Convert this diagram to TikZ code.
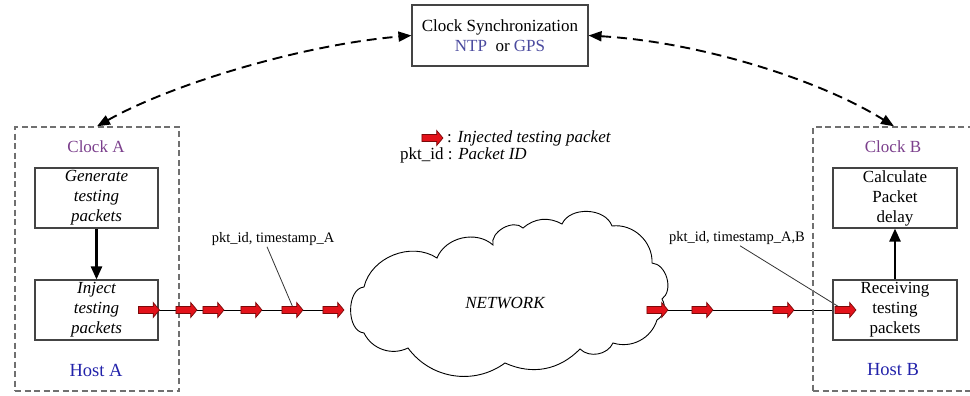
\documentclass[tikz,border=0pt]{standalone}
\usepackage{fontspec}
\setmainfont{Liberation Serif}
\usetikzlibrary{arrows.meta,shapes.arrows,backgrounds}

\definecolor{clockpurple}{HTML}{7B3F8C}
\definecolor{hostblue}{HTML}{2222AA}
\definecolor{syncblue}{HTML}{4A4A9E}
\definecolor{pktred}{HTML}{E3121A}
\definecolor{pktedge}{HTML}{7A0A0A}
\definecolor{boxgray}{HTML}{444444}
\definecolor{hostgray}{HTML}{707070}

\begin{document}
\begin{tikzpicture}[x=1pt,y=-1pt,
  font=\fontsize{17}{20}\selectfont,
  procbox/.style={draw=boxgray,line width=1.1pt,minimum width=123pt,minimum height=60pt,align=center,inner sep=0pt},
  hostbox/.style={draw=hostgray,line width=1.4pt,dash pattern=on 6pt off 3.5pt,minimum height=264pt,inner sep=0pt},
  pkt/.style={single arrow,fill=pktred,draw=pktedge,line width=0.7pt,minimum height=21pt,inner xsep=0pt,inner ysep=3.2pt,single arrow head extend=4pt,single arrow tip angle=100},
  flow/.style={line width=2.4pt,-{Triangle[length=13pt,width=11pt]}},
  syncarc/.style={line width=1.9pt,dash pattern=on 10pt off 6pt,{Triangle[length=13pt,width=10pt]}-{Triangle[length=13pt,width=10pt]}},
  tag/.style={font=\fontsize{14.5}{17}\selectfont,inner sep=1pt},
  pointer/.style={draw=black!80,line width=0.8pt},
  wire/.style={draw=black,line width=0.9pt}
]
\useasboundingbox (0,0) rectangle (970,396);
\clip (0,0) rectangle (970,396);

% time source
\node[procbox,minimum width=176pt,minimum height=61pt] (sync) at (500,35.5)
  {Clock Synchronization\\\textcolor{syncblue}{NTP}\ \ or \textcolor{syncblue}{GPS}};

% hosts
\node[hostbox,minimum width=164pt] (hostA) at (97,259) {};
\node[hostbox,minimum width=162pt] (hostB) at (894,259) {};

\node[text=clockpurple] (clkA) at (96,147) {Clock A};
\node[text=clockpurple] (clkB) at (893,147) {Clock B};
\node[text=hostblue,font=\fontsize{18.5}{22}\selectfont] (hstA) at (96,370) {Host A};
\node[text=hostblue,font=\fontsize{18.5}{22}\selectfont] (hstB) at (893,370) {Host B};

\node[procbox,font=\fontsize{17}{20}\selectfont\itshape] (gen) at (96.5,198) {Generate\\testing\\packets};
\node[procbox,font=\fontsize{17}{20}\selectfont\itshape] (inj) at (96.5,310) {Inject\\testing\\packets};
\node[procbox,minimum width=124pt] (calc) at (895,198) {Calculate\\Packet\\delay};
\node[procbox,minimum width=124pt] (recv) at (895,310) {Receiving\\testing\\packets};

\draw[flow] (gen) -- (inj);
\draw[flow] (recv) -- (calc);

% clock synchronisation arcs
\draw[syncarc] (hostA.north) .. controls (170,85) and (300,45) .. (sync.west);
\draw[syncarc] (sync.east) .. controls (700,42) and (820,80) .. (hostB.north);

% network cloud
\draw[line width=0.9pt,fill=white]
  (364,287) to[bend left=55] (437,258) to[bend left=55] (493,245)
  to[bend left=75] (523,228) to[bend left=35] (562,224)
  to[bend left=68] (612,226) to[bend left=50] (652,263)
  to[bend left=70] (662,299) to[bend left=45] (657,320)
  to[bend left=45] (613,343) to[bend left=55] (580,349)
  to[bend left=35] (505,363) to[bend left=45] (408,348)
  to[bend left=45] (364,333) to[bend left=85] (364,287) -- cycle;
\coordinate (cl) at (342,310);
\coordinate (cr) at (663,310);
\node[font=\fontsize{17}{20}\selectfont\itshape] (net) at (505,303) {NETWORK};

% injected packets
\node[pkt] (p1) at (147.5,310) {};
\node[pkt] (p2) at (185,310) {};
\node[pkt] (p3) at (212,310) {};
\node[pkt] (p4) at (250,310) {};
\node[pkt] (p5) at (291,310) {};
\node[pkt] (p6) at (332,310) {};
\node[pkt] (q1) at (656,310) {};
\node[pkt] (q2) at (701,310) {};
\node[pkt] (q3) at (782,310) {};
\node[pkt] (q4) at (844,310) {};

% packet labels
\node[tag] (tagA) at (273,239) {pkt\_id, timestamp\_A};
\node[tag] (tagB) at (737,238) {pkt\_id, timestamp\_A,B};

\begin{scope}[on background layer]
  \draw[wire] (inj.east) -- (cl);
  \draw[wire] (cr) -- (recv.west);
  \draw[pointer] ([xshift=-6pt]tagA.south) -- ([xshift=3pt]p5.center);
  \draw[pointer] ([xshift=3pt]tagB.south) -- (q4.center);
\end{scope}

% legend
\node[pkt] (legarrow) at (431,138) {};
\node[anchor=west,inner sep=0pt] (legA) at (447,138) {: \textit{Injected testing packet}};
\node[anchor=west,inner sep=0pt] (legB) at (400,155) {pkt\_id : \textit{Packet ID}};
\end{tikzpicture}
\end{document}
